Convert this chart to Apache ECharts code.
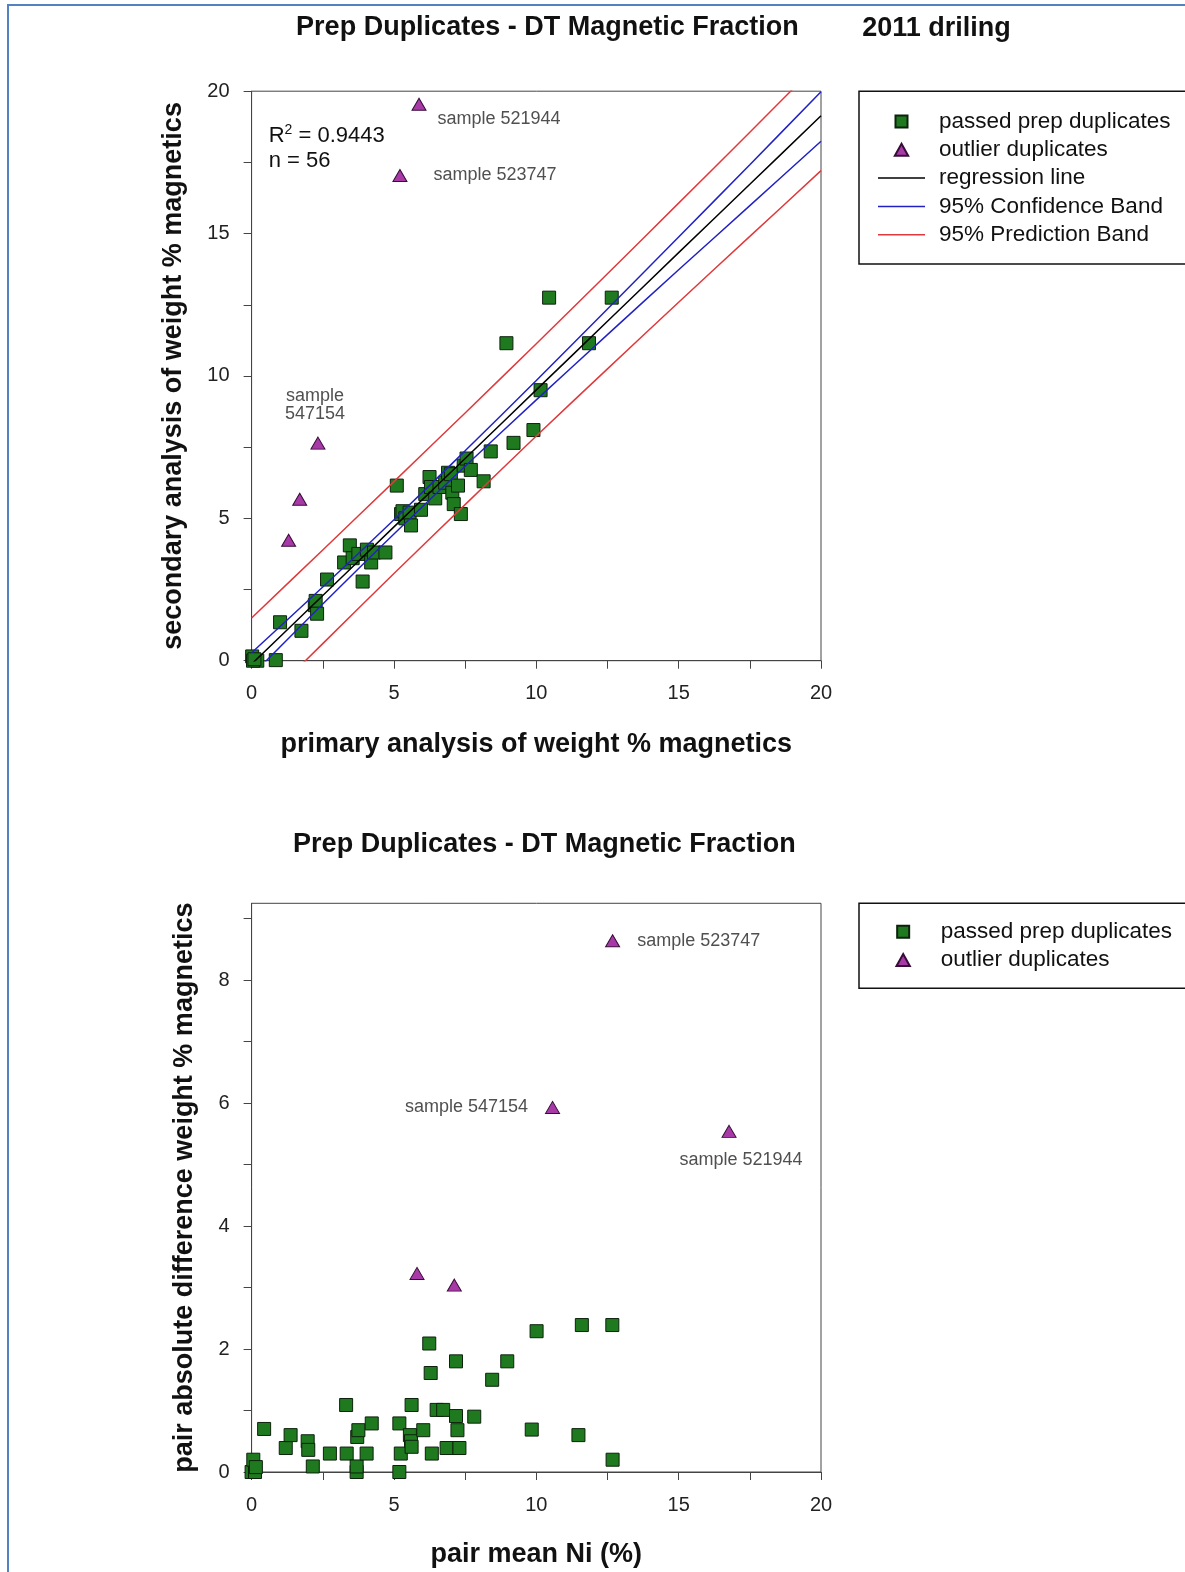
<!DOCTYPE html>
<html>
<head>
<meta charset="utf-8">
<title>Prep Duplicates - DT Magnetic Fraction</title>
<script src="https://cdn.jsdelivr.net/npm/echarts@6/dist/echarts.min.js"></script>
<style>
  html, body { margin: 0; padding: 0; background: #ffffff; }
  #chart { width: 1185px; height: 1572px; }
</style>
</head>
<body>
<div id="chart"></div>
<script>
// ---------------- data ----------------
// primary vs secondary weight % magnetics, duplicates that passed
const passedPairs = [
  [0.02, 0.15], [0.2, 0.0], [0.05, 0.0], [0.1, 0.05], [0.85, 0.02], [1.0, 1.35],
  [1.75, 1.05], [2.22, 1.95], [2.25, 2.1], [2.3, 1.65], [2.65, 2.85], [3.25, 3.45],
  [3.45, 4.05], [3.55, 3.6], [3.75, 3.75], [3.9, 2.78], [4.05, 3.9], [4.2, 3.45],
  [4.3, 3.8], [4.7, 3.8], [5.1, 6.15], [5.25, 5.15], [5.3, 5.25], [5.4, 5.0],
  [5.55, 5.2], [5.6, 4.75], [5.95, 5.3], [6.1, 5.85], [6.25, 6.45], [6.3, 6.1],
  [6.45, 5.7], [6.6, 6.1], [6.8, 6.25], [6.9, 6.6], [7.0, 6.55], [7.05, 5.9],
  [7.1, 5.5], [7.25, 6.15], [7.35, 5.15], [7.45, 6.85], [7.55, 7.1], [7.7, 6.7],
  [8.15, 6.3], [8.4, 7.35], [9.2, 7.65], [9.9, 8.1], [10.15, 9.5], [8.95, 11.15],
  [11.85, 11.15], [10.45, 12.75], [12.65, 12.75]
];
// outlier duplicates (primary, secondary)
const outlierPairs = [[5.88, 19.54], [5.21, 17.04], [2.33, 7.64], [1.69, 5.67], [1.30, 4.23]];
const outlierNames = ['sample 521944', 'sample 523747', 'sample\n547154', '', ''];

// regression line and 95% bands read at these primary values
const bandX       = [0, 2.5, 5, 7.5, 10, 12.5, 15, 17.5, 20];
const regressionY = [-0.12, 2.29, 4.70, 7.10, 9.51, 11.92, 14.33, 16.73, 19.14];
const confUpperY  = [0.28, 2.59, 4.95, 7.37, 9.84, 12.35, 14.88, 17.42, 19.98];
const confLowerY  = [-0.52, 1.99, 4.45, 6.83, 9.16, 11.45, 13.73, 15.98, 18.24];
const predUpperY  = [1.50, 3.89, 6.29, 8.70, 11.13, 13.59, 16.07, 18.56, 21.07];
const predLowerY  = [-1.86, 0.60, 3.06, 5.48, 7.89, 10.25, 12.59, 14.90, 17.21];
const rSquared = '0.9443';
const sampleCount = 56;

// pair mean Ni (%) vs pair absolute difference
const passedDiffPairs = [
  [0.0, 0.0], [0.12, 0.0], [0.06, 0.2], [0.15, 0.08], [0.44, 0.7], [1.2, 0.39],
  [1.37, 0.6], [1.97, 0.5], [1.99, 0.36], [2.15, 0.09], [2.75, 0.3], [3.32, 1.09],
  [3.34, 0.3], [3.69, 0.0], [3.69, 0.09], [3.71, 0.57], [3.75, 0.68], [4.04, 0.3],
  [4.22, 0.79], [5.19, 0.79], [5.19, 0.0], [5.24, 0.3], [5.56, 0.6], [5.6, 0.5],
  [5.62, 1.09], [5.62, 0.41], [6.03, 0.68], [6.24, 2.09], [6.29, 1.61], [6.33, 0.3],
  [6.5, 1.01], [6.73, 1.01], [6.85, 0.39], [7.18, 1.8], [7.18, 0.91], [7.23, 0.68],
  [7.3, 0.39], [7.82, 0.9], [8.45, 1.5], [8.98, 1.8], [9.84, 0.69], [10.01, 2.29],
  [11.48, 0.6], [11.6, 2.39], [12.67, 2.39], [12.68, 0.2]
];
const outlierDiffPairs = [[12.68, 8.64], [10.57, 5.93], [16.77, 5.54], [5.81, 3.23], [7.12, 3.04]];
const outlierDiffNames = ['sample 523747', 'sample 547154', 'sample 521944', '', ''];

// axis ticks and labels
const weightTicks  = [0, 2.5, 5, 7.5, 10, 12.5, 15, 17.5, 20];
const weightLabels = [0, 5, 10, 15, 20];
const diffTicks    = [0, 1, 2, 3, 4, 5, 6, 7, 8, 9];
const diffLabels   = [0, 2, 4, 6, 8];

// ---------------- presentation ----------------
const FONT = "'Liberation Sans', Arial, Helvetica, sans-serif";
const AXIS_COLOR = '#444444';
const GREEN = '#1f7a1f', GREEN_EDGE = '#0c220c';
const PURPLE = '#a83aa8', PURPLE_EDGE = '#380c38';

// legend icon shapes (kept at their own aspect inside the icon box)
const ICON_SQUARE = 'path://M0,0H10V10H0Z';
const ICON_TRIANGLE = 'path://M5,0L10,9H0Z';
const ICON_LINE = 'path://M0,0H47V1.5H0Z';

// where each outlier's sample label sits relative to its marker
const outlierLabelPlacement = [
  { position: 'right', offset: [11, 15] },
  { position: 'right', offset: [26, 0] },
  { position: 'top', offset: [-3, -14], align: 'center', lineHeight: 18 },
  null, null
];
const outlierDiffLabelPlacement = [
  { position: 'right', offset: [17, 0] },
  { position: 'left', offset: [-17, 0] },
  { position: 'bottom', offset: [12, 13] },
  null, null
];

function labelledPoints(points, names, placement) {
  return points.map((p, i) => {
    const item = { value: p };
    if (names[i]) {
      item.label = Object.assign({
        show: true,
        distance: 0,
        formatter: names[i],
        fontFamily: FONT,
        fontSize: 18,
        color: '#505050'
      }, placement[i]);
    }
    return item;
  });
}

function pairs(xs, ys) { return xs.map((x, i) => [x, ys[i]]); }

function valueAxis(gridIndex, min, max, ticks, labels, name, nameGap, labelMargin) {
  return {
    type: 'value', gridIndex, min, max,
    name, nameLocation: 'middle', nameGap,
    nameTextStyle: { fontFamily: FONT, fontSize: 27, fontWeight: 'bold', color: '#111' },
    axisLine: { show: true, onZero: false, lineStyle: { color: AXIS_COLOR, width: 1 } },
    axisTick: { show: true, inside: false, length: 8, customValues: ticks, lineStyle: { color: AXIS_COLOR, width: 1 } },
    axisLabel: { customValues: labels, fontFamily: FONT, fontSize: 20, color: '#222', margin: labelMargin },
    splitLine: { show: false }
  };
}

const scatterBase = { type: 'scatter', z: 2 };
const squareStyle = { symbol: 'rect', symbolSize: 13,
  itemStyle: { color: GREEN, borderColor: GREEN_EDGE, borderWidth: 1, opacity: 1 } };
const triangleStyle = { symbol: 'triangle', symbolSize: [14, 12],
  itemStyle: { color: PURPLE, borderColor: PURPLE_EDGE, borderWidth: 1, opacity: 1 } };
function bandLine(name, color, ys) {
  return {
    type: 'line', name, xAxisIndex: 0, yAxisIndex: 0, z: 3,
    data: pairs(bandX, ys), symbol: 'none', smooth: 0.3,
    lineStyle: { color, width: 1.5 }, itemStyle: { color }
  };
}

const legendBase = {
  orient: 'vertical', left: 859, itemWidth: 47, itemHeight: 12, itemGap: 5.3,
  borderColor: '#111', borderWidth: 1.5, selectedMode: false,
  textStyle: { fontFamily: FONT, fontSize: 22.5, color: '#111', padding: [0, 0, 0, 9] }
};
const legendPassed = { name: 'passed prep duplicates', icon: ICON_SQUARE };
const legendOutlier = { name: 'outlier duplicates', icon: ICON_TRIANGLE };

const option = {
  animation: false,
  backgroundColor: '#ffffff',
  grid: [
    { left: 251.6, top: 91.2, width: 569.4, height: 569.5, show: true, borderColor: AXIS_COLOR, borderWidth: 1, outerBoundsMode: 'none' },
    { left: 251.6, top: 903.3, width: 569.4, height: 568.7, show: true, borderColor: AXIS_COLOR, borderWidth: 1, outerBoundsMode: 'none' }
  ],
  xAxis: [
    valueAxis(0, 0, 20, weightTicks, weightLabels, 'primary analysis of weight % magnetics', 70, 23),
    valueAxis(1, 0, 20, weightTicks, weightLabels, 'pair mean Ni (%)', 69, 23)
  ],
  yAxis: [
    valueAxis(0, 0, 20, weightTicks, weightLabels, 'secondary analysis of weight % magnetics', 65, 22),
    valueAxis(1, 0, 9.25, diffTicks, diffLabels, 'pair absolute difference weight % magnetics', 54, 22)
  ],
  legend: [
    Object.assign({}, legendBase, {
      top: 91.2, padding: [18.8, 18, 17.8, 19],
      data: [legendPassed, legendOutlier,
        { name: 'regression line', icon: ICON_LINE },
        { name: '95% Confidence Band', icon: ICON_LINE },
        { name: '95% Prediction Band', icon: ICON_LINE }]
    }),
    // only marker icons here, so the icon column starts 17.5px into its box
    Object.assign({}, legendBase, {
      top: 903.3, padding: [16.9, 18, 16.8, 36.5],
      data: [legendPassed, legendOutlier]
    })
  ],
  graphic: [
    { type: 'rect', z: 100, silent: true, shape: { x: 8, y: 5, width: 1220, height: 1620 },
      style: { fill: 'none', stroke: '#5282c2', lineWidth: 2 } },
    { type: 'text', x: 547.4, y: 27.1, style: { text: 'Prep Duplicates - DT Magnetic Fraction', fontFamily: FONT, fontSize: 27, fontWeight: 'bold', fill: '#111', align: 'center', verticalAlign: 'middle' } },
    { type: 'text', x: 862.2, y: 28.1, style: { text: '2011 driling', fontFamily: FONT, fontSize: 27, fontWeight: 'bold', fill: '#111', align: 'left', verticalAlign: 'middle' } },
    { type: 'text', x: 544.4, y: 844.2, style: { text: 'Prep Duplicates - DT Magnetic Fraction', fontFamily: FONT, fontSize: 27, fontWeight: 'bold', fill: '#111', align: 'center', verticalAlign: 'middle' } },
    { type: 'text', x: 268.7, y: 123, style: {
        text: '{a|R}{s|2}{a| = ' + rSquared + '}\n{a|n = ' + sampleCount + '}',
        fontFamily: FONT, fill: '#111', align: 'left', verticalAlign: 'top',
        rich: {
          a: { fontFamily: FONT, fontSize: 22, lineHeight: 25, color: '#111' },
          s: { fontFamily: FONT, fontSize: 14, lineHeight: 25, color: '#111', verticalAlign: 'top', padding: [0, 0, 8, 0] }
        } } }
  ],
  series: [
    Object.assign({}, scatterBase, squareStyle, { name: 'passed prep duplicates', xAxisIndex: 0, yAxisIndex: 0, data: passedPairs }),
    Object.assign({}, scatterBase, triangleStyle, { name: 'outlier duplicates', xAxisIndex: 0, yAxisIndex: 0,
      data: labelledPoints(outlierPairs, outlierNames, outlierLabelPlacement) }),
    bandLine('regression line', '#000000', regressionY),
    bandLine('95% Confidence Band', '#2222c4', confUpperY),
    bandLine('95% Confidence Band', '#2222c4', confLowerY),
    bandLine('95% Prediction Band', '#e0393b', predUpperY),
    bandLine('95% Prediction Band', '#e0393b', predLowerY),
    Object.assign({}, scatterBase, squareStyle, { name: 'passed prep duplicates', xAxisIndex: 1, yAxisIndex: 1, data: passedDiffPairs }),
    Object.assign({}, scatterBase, triangleStyle, { name: 'outlier duplicates', xAxisIndex: 1, yAxisIndex: 1,
      data: labelledPoints(outlierDiffPairs, outlierDiffNames, outlierDiffLabelPlacement) })
  ]
};

const chart = echarts.init(document.getElementById('chart'), null, { renderer: 'canvas' });
chart.setOption(option);
</script>
</body>
</html>
